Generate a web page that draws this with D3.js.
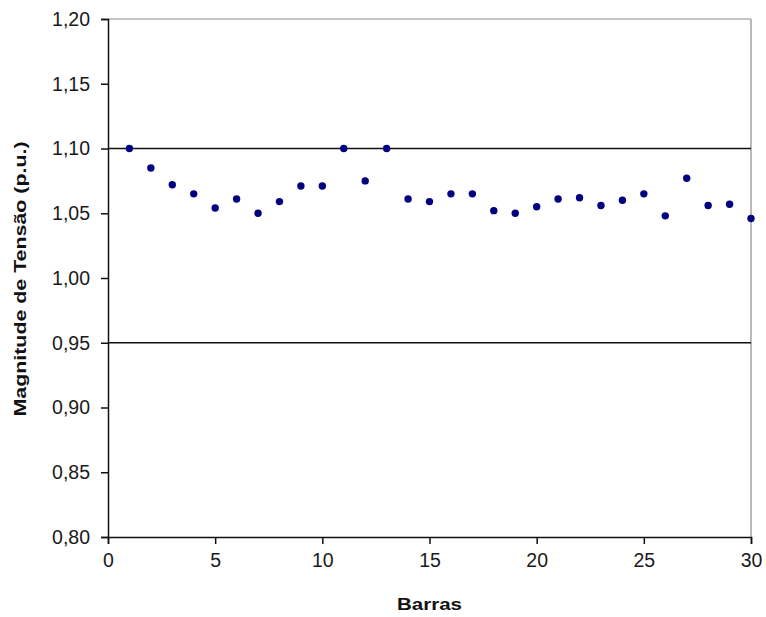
<!DOCTYPE html>
<html>
<head>
<meta charset="utf-8">
<script src="https://cdn.jsdelivr.net/npm/d3@7"></script>
<style>
  html, body { margin: 0; padding: 0; background: #fff; }
  text { font-family: "Liberation Sans", Arial, sans-serif; }
</style>
</head>
<body>
<svg id="chart" width="766" height="617"></svg>
<script>
// ---- data ----
const barras = [1,2,3,4,5,6,7,8,9,10,11,12,13,14,15,16,17,18,19,20,21,22,23,24,25,26,27,28,29,30];
const tensao = [1.100,1.085,1.072,1.065,1.054,1.061,1.050,1.059,1.071,1.071,
                1.100,1.075,1.100,1.061,1.059,1.065,1.065,1.052,1.050,1.055,
                1.061,1.062,1.056,1.060,1.065,1.048,1.077,1.056,1.057,1.046];
const limites = [1.10, 0.95];
const xTicks = [0,5,10,15,20,25,30];
const yTicks = [0.80,0.85,0.90,0.95,1.00,1.05,1.10,1.15,1.20];
const xTitle = "Barras";
const yTitle = "Magnitude de Tensão (p.u.)";

// ---- layout ----
const svg = d3.select("#chart");
const L = 108, R = 751, T = 19, B = 537;
const x = d3.scaleLinear().domain([0, 30]).range([L, R]);
const y = d3.scaleLinear().domain([0.80, 1.20]).range([B, T]);
const fmt = d => d.toFixed(2).replace(".", ",");

// frame (top & right, gray)
svg.append("line").attr("x1", L).attr("x2", R).attr("y1", T).attr("y2", T)
  .attr("stroke", "#8c8c8c").attr("stroke-width", 1.2);
svg.append("line").attr("x1", R).attr("x2", R).attr("y1", T).attr("y2", B)
  .attr("stroke", "#8c8c8c").attr("stroke-width", 1.2);

// limit lines
svg.selectAll("line.lim").data(limites).join("line").attr("class", "lim")
  .attr("x1", L).attr("x2", R)
  .attr("y1", d => y(d)).attr("y2", d => y(d))
  .attr("stroke", "#111").attr("stroke-width", 1.5);

// axes
const yAxis = svg.append("g").attr("transform", `translate(${L},0)`)
  .call(d3.axisLeft(y).tickValues(yTicks).tickFormat(fmt).tickSize(7).tickPadding(11));
const xAxis = svg.append("g").attr("transform", `translate(0,${B})`)
  .call(d3.axisBottom(x).tickValues(xTicks).tickFormat(d3.format("d")).tickSize(7).tickPadding(9));
[yAxis, xAxis].forEach(g => {
  g.select(".domain").attr("stroke", "#111").attr("stroke-width", 1.5);
  g.selectAll(".tick line").attr("stroke", "#111").attr("stroke-width", 1.5);
  g.selectAll(".tick text").attr("fill", "#1a1a1a")
    .style("font-size", "19.5px").style("font-family", "'Liberation Sans', Arial, sans-serif");
});

// points
svg.selectAll("circle.pt").data(barras).join("circle").attr("class", "pt")
  .attr("cx", d => x(d))
  .attr("cy", (d, i) => y(tensao[i]))
  .attr("r", 3.7)
  .attr("fill", "#000080");

// titles
svg.append("text").attr("x", (L + R) / 2).attr("y", 610)
  .attr("text-anchor", "middle").style("font-size", "17px").style("font-weight", "bold")
  .attr("fill", "#111")
  .attr("textLength", 65).attr("lengthAdjust", "spacingAndGlyphs")
  .text(xTitle);
svg.append("text")
  .attr("transform", `translate(26,${(T + B) / 2 + 1}) rotate(-90)`)
  .attr("text-anchor", "middle").style("font-size", "16px").style("font-weight", "bold")
  .attr("fill", "#111")
  .attr("textLength", 275).attr("lengthAdjust", "spacingAndGlyphs")
  .text(yTitle);
</script>
</body>
</html>
